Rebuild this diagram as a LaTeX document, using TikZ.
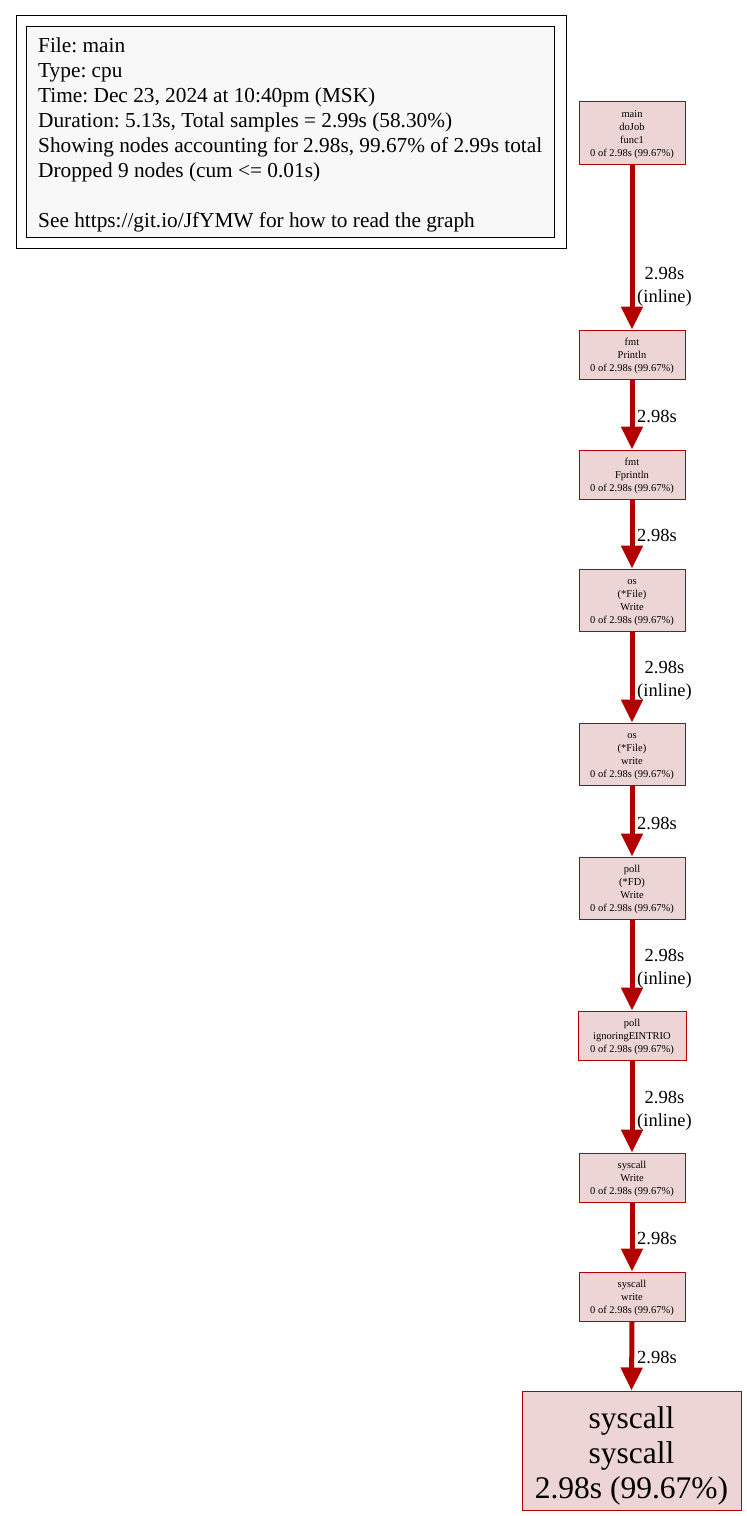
\documentclass[tikz,border=0pt]{standalone}
\usepackage{fontspec}
\setmainfont{Liberation Serif}
\usetikzlibrary{arrows.meta}
\frenchspacing
\definecolor{edgered}{HTML}{B20000}
\definecolor{nodefill}{HTML}{EDD5D5}
\definecolor{legfill}{HTML}{F8F8F8}
\newcommand\topst{\rule{0pt}{11pt}}
\newcommand\botst{\rule[-2pt]{0pt}{2pt}}
\newcommand\bigtop{\rule{0pt}{33pt}}
\tikzset{
  fnode/.style={draw=edgered, fill=nodefill, line width=1pt, minimum width=106pt, inner sep=0pt, align=center, font=\fontsize{10.5}{13}\selectfont},
  bignode/.style={draw=edgered, fill=nodefill, line width=1pt, minimum width=219pt, minimum height=119pt, inner sep=0pt, align=center, font=\fontsize{31.5}{35}\selectfont},
  hotedge/.style={draw=edgered, line width=5pt, -{Triangle[length=23pt,width=21pt]}},
  elabel/.style={anchor=west, inner sep=0pt, align=center, font=\fontsize{18.5}{23.5}\selectfont}
}
\begin{document}
\begin{tikzpicture}[x=1pt,y=-1pt]
\useasboundingbox (0,0) rectangle (747,1516);
% legend
\node (legout) [draw=black, line width=1pt, minimum width=550pt, minimum height=233pt, inner sep=0pt] at (291,131.5) {};
\node (legin) [draw=black, fill=legfill, line width=1pt, minimum width=528pt, minimum height=211pt, inner sep=0pt] at (290,131.5) {};
\node (legtext) [anchor=north west, inner sep=0pt, align=left, font=\fontsize{21.3}{25}\selectfont] at (38,38)
 {File: main\\Type: cpu\\Time: Dec 23, 2024 at 10:40pm (MSK)\\Duration: 5.13s, Total samples = 2.99s (58.30\%)\\Showing nodes accounting for 2.98s, 99.67\% of 2.99s total\\Dropped 9 nodes (cum <= 0.01s)\\[25pt]See https://git.io/JfYMW for how to read the graph};
% nodes
\node (n1) [fnode, minimum height=63pt] at (632,132.5) {\topst main\\doJob\\func1\\0 of 2.98s (99.67\%)\botst};
\node (n2) [fnode, minimum height=49pt] at (632,354.5) {\topst fmt\\Println\\0 of 2.98s (99.67\%)\botst};
\node (n3) [fnode, minimum height=49pt] at (632,474.5) {\topst fmt\\Fprintln\\0 of 2.98s (99.67\%)\botst};
\node (n4) [fnode, minimum height=62pt] at (632,600) {\topst os\\(*File)\\Write\\0 of 2.98s (99.67\%)\botst};
\node (n5) [fnode, minimum height=62pt] at (632,754) {\topst os\\(*File)\\write\\0 of 2.98s (99.67\%)\botst};
\node (n6) [fnode, minimum height=62pt] at (632,888) {\topst poll\\(*FD)\\Write\\0 of 2.98s (99.67\%)\botst};
\node (n7) [fnode, minimum height=49pt, minimum width=108pt] at (632,1035.5) {\topst poll\\ignoringEINTRIO\\0 of 2.98s (99.67\%)\botst};
\node (n8) [fnode, minimum height=49pt] at (632,1177.5) {\topst syscall\\Write\\0 of 2.98s (99.67\%)\botst};
\node (n9) [fnode, minimum height=49pt] at (632,1296.5) {\topst syscall\\write\\0 of 2.98s (99.67\%)\botst};
\node (n10) [bignode] at (631.5,1450.5) {\bigtop syscall\\syscall\\2.98s (99.67\%)};
% edges
\draw[hotedge] (n1.south) -- (n2.north);
\draw[hotedge] (n2.south) -- (n3.north);
\draw[hotedge] (n3.south) -- (n4.north);
\draw[hotedge] (n4.south) -- (n5.north);
\draw[hotedge] (n5.south) -- (n6.north);
\draw[hotedge] (n6.south) -- (n7.north);
\draw[hotedge] (n7.south) -- (n8.north);
\draw[hotedge] (n8.south) -- (n9.north);
\draw[hotedge] (n9.south) -- (n10.north);
% edge labels
\node (l1) [elabel] at (637,287) {2.98s\\(inline)};
\node (l2) [elabel] at (637,416) {2.98s};
\node (l3) [elabel] at (637,535) {2.98s};
\node (l4) [elabel] at (637,681) {2.98s\\(inline)};
\node (l5) [elabel] at (637,823) {2.98s};
\node (l6) [elabel] at (637,969) {2.98s\\(inline)};
\node (l7) [elabel] at (637,1111) {2.98s\\(inline)};
\node (l8) [elabel] at (637,1238) {2.98s};
\node (l9) [elabel] at (637,1357) {2.98s};
\end{tikzpicture}
\end{document}
